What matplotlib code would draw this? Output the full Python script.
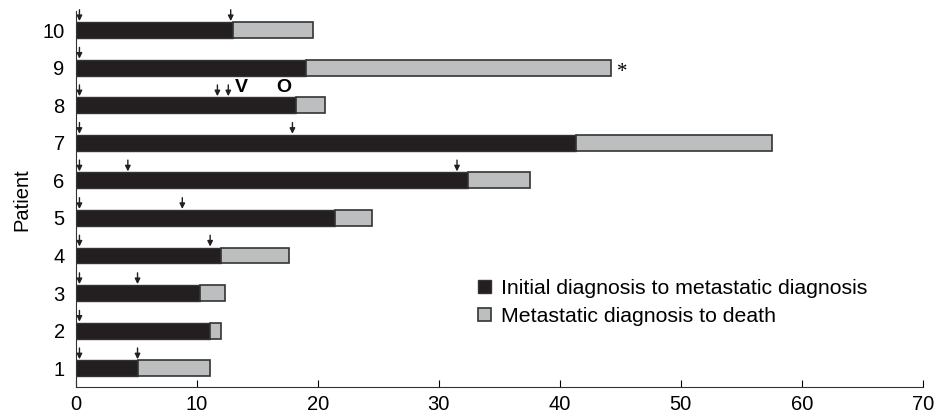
import numpy as np
import matplotlib.pyplot as plt

plt.rcParams['font.family'] = ['Liberation Sans', 'DejaVu Sans']

# months from initial diagnosis
patients = [1, 2, 3, 4, 5, 6, 7, 8, 9, 10]
to_metastatic = [5.1, 11.1, 10.3, 12.0, 21.4, 32.4, 41.3, 18.2, 19.0, 13.0]
to_death = [6.0, 0.9, 2.0, 5.6, 3.1, 5.1, 16.2, 2.4, 25.2, 6.6]
arrows = [
    [0.3, 5.1],
    [0.3],
    [0.3, 5.1],
    [0.3, 11.1],
    [0.3, 8.8],
    [0.3, 4.3, 31.5],
    [0.3, 17.9],
    [0.3, 11.7, 12.6],
    [0.3],
    [0.3, 12.8],
]
labels = ["Initial diagnosis to metastatic diagnosis", "Metastatic diagnosis to death"]

black = "#231f20"
gray = "#bcbec0"

fig, ax = plt.subplots(figsize=(9.36, 4.18), dpi=100)
fig.subplots_adjust(left=0.081, right=0.986, bottom=0.074, top=0.973)

h = 0.42
ax.barh(patients, to_metastatic, height=h, color=black, edgecolor="#333333",
        linewidth=1, label=labels[0])
ax.barh(patients, to_death, left=to_metastatic, height=h, color=gray,
        edgecolor="#333333", linewidth=1.2, label=labels[1])

for p, xs in zip(patients, arrows):
    for x in xs:
        ax.annotate("", xy=(x, p + h / 2 + 0.03), xytext=(x, p + h / 2 + 0.33),
                    arrowprops=dict(arrowstyle="-|>", color=black, lw=1.0,
                                    mutation_scale=8, shrinkA=0, shrinkB=0))

# markers on patient 8 and 9
ax.text(13.7, 8.46, "V", fontsize=14, fontweight="bold", ha="center", va="center")
ax.text(17.2, 8.46, "O", fontsize=14, fontweight="bold", ha="center", va="center")
ax.text(to_metastatic[8] + to_death[8] + 0.5, 8.88, "*", fontsize=15,
        family="Liberation Serif", ha="left", va="center")

ax.set_xlim(0, 70)
ax.set_ylim(0.5, 10.5)
ax.set_xticks(np.arange(0, 71, 10))
ax.set_yticks(patients)
ax.tick_params(axis="x", direction="in", length=5, labelsize=14.5, pad=6)
ax.tick_params(axis="y", length=0, labelsize=14.5, pad=8)
ax.spines["top"].set_visible(False)
ax.spines["right"].set_visible(False)
ax.spines["left"].set_color("#333333")
ax.spines["bottom"].set_color("#333333")
ax.set_ylabel("Patient", fontsize=14.5, labelpad=8)

ax.legend(loc="upper left", bbox_to_anchor=(0.465, 0.31), frameon=False,
          fontsize=15.3, handlelength=0.6, handleheight=0.6, handletextpad=0.45,
          labelspacing=0.42, borderaxespad=0)

plt.savefig("out.png", dpi=100)
